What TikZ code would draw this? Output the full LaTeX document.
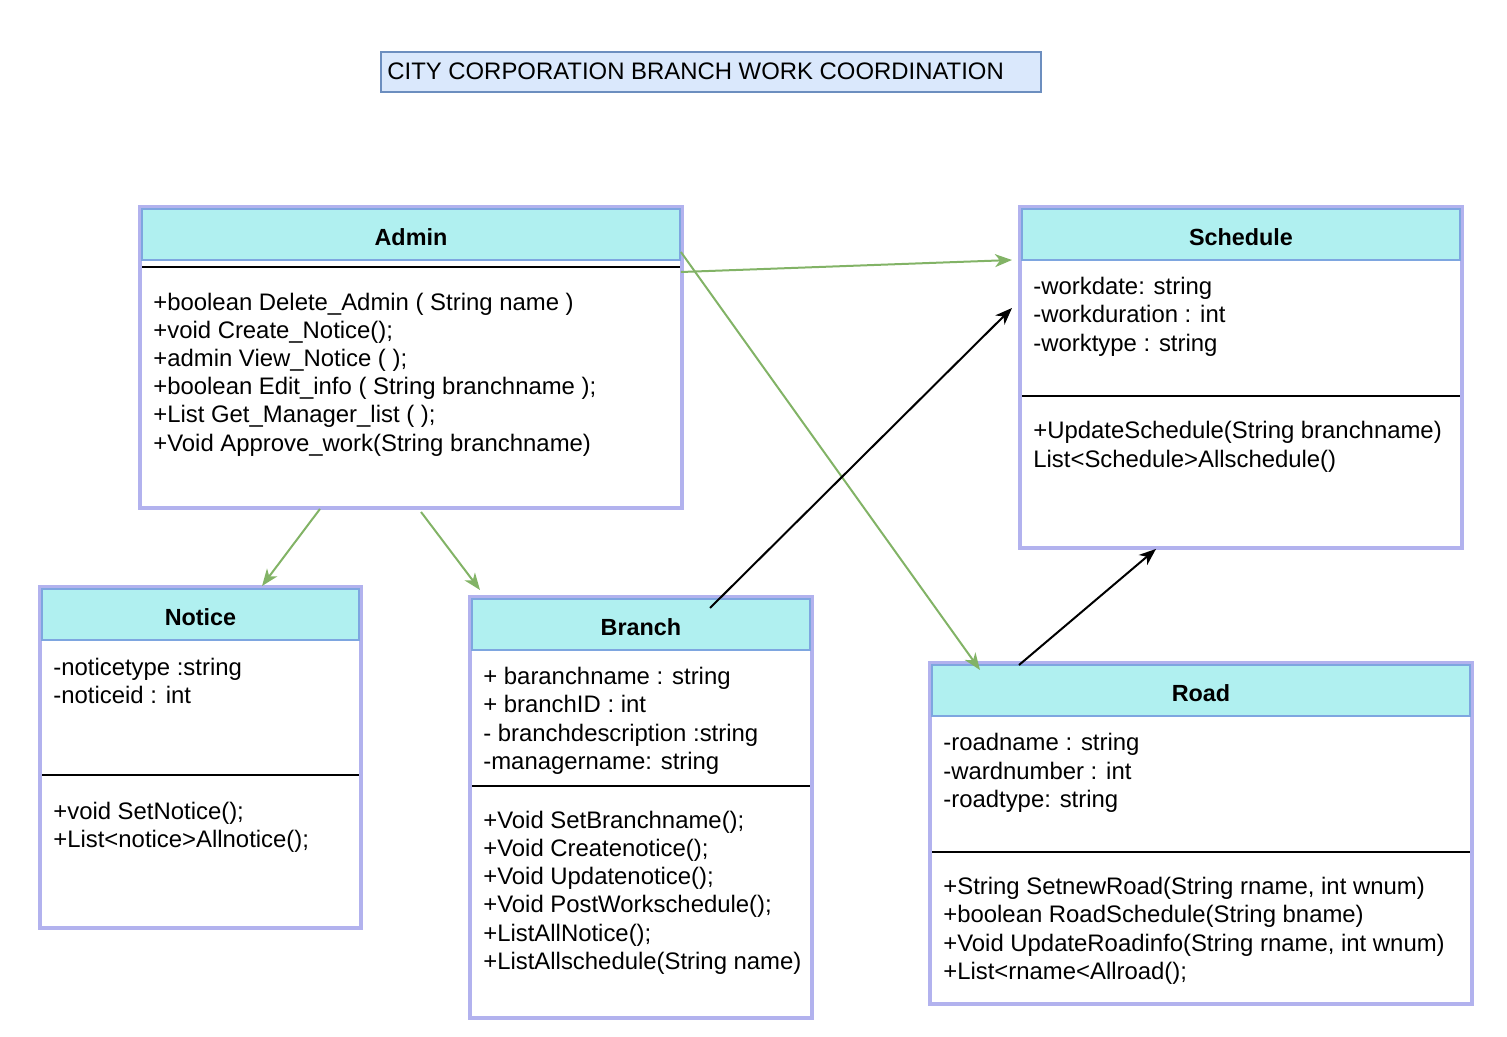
\documentclass[tikz,border=0pt]{standalone}
\usepackage{fontspec}
\setmainfont{Liberation Sans}
\usepackage{xcolor}
\usetikzlibrary{positioning, calc, arrows.meta}
\definecolor{lavender}{RGB}{178,178,238}
\definecolor{headcyan}{RGB}{176,240,240}
\definecolor{headblue}{RGB}{126,166,224}
\definecolor{titlefill}{RGB}{218,232,252}
\definecolor{titleline}{RGB}{108,142,191}
\definecolor{assocgreen}{RGB}{130,179,102}
\tikzset{
    classbox/.style={draw=lavender, line width=0.08cm, fill=white, anchor=north west, inner sep=0pt, outer sep=0pt}, % outer frame of a class
    headcell/.style={draw=headblue, line width=0.04cm, fill=headcyan, anchor=north west, inner sep=0pt, outer sep=0pt}, % class name band
    headtext/.style={anchor=base, font=\fontsize{13.3}{15.9}\selectfont\bfseries},
    members/.style={anchor=base west, align=left, inner sep=0pt, font=\fontsize{13.6}{15.94}\selectfont}, % base = last line
    divider/.style={black, line width=0.04cm},
}
\tikzstyle{assoc} = [line width=0.04cm, draw=assocgreen, -{Stealth[length=0.34cm, width=0.26cm, inset=0.1cm]}]
\tikzstyle{uses} = [line width=0.04cm, draw=black, -{Stealth[length=0.34cm, width=0.26cm, inset=0.1cm]}]
\begin{document}
\begin{tikzpicture}[x=0.02cm, y=-0.02cm]
    \useasboundingbox (0,0) rectangle (1507,1037);

    % title
    \node[draw=titleline, line width=0.04cm, fill=titlefill, anchor=north west, inner sep=0pt, outer sep=0pt,
          minimum width=13.2cm, minimum height=0.8cm] (title) at (381,52) {};
    \node[members] (title-text) at (387,80) {CITY CORPORATION BRANCH WORK COORDINATION};

    % Admin
    \node[classbox, minimum width=10.84cm, minimum height=6.02cm] (admin) at (140,207) {};
    \node[headcell, minimum width=10.76cm, minimum height=1.02cm] (admin-head) at (142,209) {};
    \node[headtext] (admin-name) at ($(admin-head.south)+(0,-14)$) {Admin};
    \draw[divider] ($(admin.north west)+(2,60)$) -- ($(admin.north east)+(-2,60)$);
    \node[members] (admin-ops) at ($(admin.north west)+(13,244)$) {+boolean Delete\_Admin ( String name )\\+void Create\_Notice();\\+admin View\_Notice ( );\\+boolean Edit\_info ( String branchname );\\+List Get\_Manager\_list ( );\\+Void Approve\_work(String branchname)};

    % Schedule
    \node[classbox, minimum width=8.84cm, minimum height=6.82cm] (schedule) at (1020,207) {};
    \node[headcell, minimum width=8.76cm, minimum height=1.02cm] (schedule-head) at (1022,209) {};
    \node[headtext] (schedule-name) at ($(schedule-head.south)+(0,-14)$) {Schedule};
    \node[members] (schedule-attr) at ($(schedule.north west)+(13,144)$) {-workdate: string\\-workduration : int\\-worktype : string};
    \draw[divider] ($(schedule.north west)+(2,189)$) -- ($(schedule.north east)+(-2,189)$);
    \node[members] (schedule-ops) at ($(schedule.north west)+(13,260)$) {+UpdateSchedule(String branchname)\\List<Schedule>Allschedule()};

    % Notice
    \node[classbox, minimum width=6.42cm, minimum height=6.82cm] (notice) at (40,587) {};
    \node[headcell, minimum width=6.34cm, minimum height=1.02cm] (notice-head) at (42,589) {};
    \node[headtext] (notice-name) at ($(notice-head.south)+(0,-14)$) {Notice};
    \node[members] (notice-attr) at ($(notice.north west)+(13,116)$) {-noticetype :string\\-noticeid : int};
    \draw[divider] ($(notice.north west)+(2,188)$) -- ($(notice.north east)+(-2,188)$);
    \node[members] (notice-ops) at ($(notice.north west)+(13,260)$) {+void SetNotice();\\+List<notice>Allnotice();};

    % Branch
    \node[classbox, minimum width=6.84cm, minimum height=8.42cm] (branch) at (470,597) {};
    \node[headcell, minimum width=6.76cm, minimum height=1.02cm] (branch-head) at (472,599) {};
    \node[headtext] (branch-name) at ($(branch-head.south)+(0,-14)$) {Branch};
    \node[members] (branch-attr) at ($(branch.north west)+(13,172)$) {+ baranchname : string\\+ branchID : int\\- branchdescription :string\\-managername: string};
    \draw[divider] ($(branch.north west)+(2,189)$) -- ($(branch.north east)+(-2,189)$);
    \node[members] (branch-ops) at ($(branch.north west)+(13,372)$) {+Void SetBranchname();\\+Void Createnotice();\\+Void Updatenotice();\\+Void PostWorkschedule();\\+ListAllNotice();\\+ListAllschedule(String name)};

    % Road
    \node[classbox, minimum width=10.84cm, minimum height=6.82cm] (road) at (930,663) {};
    \node[headcell, minimum width=10.76cm, minimum height=1.02cm] (road-head) at (932,665) {};
    \node[headtext] (road-name) at ($(road-head.south)+(0,-14)$) {Road};
    \node[members] (road-attr) at ($(road.north west)+(13,144)$) {-roadname : string\\-wardnumber : int\\-roadtype: string};
    \draw[divider] ($(road.north west)+(2,189)$) -- ($(road.north east)+(-2,189)$);
    \node[members] (road-ops) at ($(road.north west)+(13,316)$) {+String SetnewRoad(String rname, int wnum)\\+boolean RoadSchedule(String bname)\\+Void UpdateRoadinfo(String rname, int wnum)\\+List<rname<Allroad();};

    % connectors
    \draw[assoc] ($(admin.north east)+(-1,65)$) -- ($(schedule.north west)+(-8,53)$);
    \draw[assoc] ($(admin.north east)+(-1,45)$) -- ($(road.north west)+(50,7)$);
    \draw[assoc] ($(admin.south west)+(180,1)$) -- ($(notice.north west)+(222,-1)$);
    \draw[assoc] ($(admin.south west)+(281,4)$) -- ($(branch.north west)+(10,-7)$);
    \draw[uses] ($(branch.north west)+(240,11)$) -- ($(schedule.north west)+(-8,101)$);
    \draw[uses] ($(road.north west)+(89,2)$) -- ($(schedule.south west)+(136,1)$);
\end{tikzpicture}
\end{document}
